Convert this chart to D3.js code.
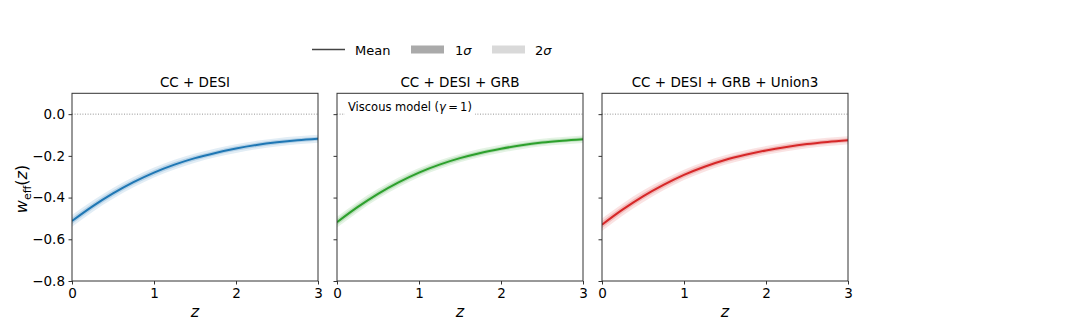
<!DOCTYPE html>
<html>
<head>
<meta charset="utf-8">
<script src="https://cdn.jsdelivr.net/npm/d3@7"></script>
<style>
  body { margin: 0; background: #fff; }
  svg { display: block; font-family: "DejaVu Sans", sans-serif; }
  .axis path, .axis line { stroke: #333; stroke-width: 1; }
  .axis text { font-size: 13.5px; fill: #000; font-family: "DejaVu Sans", sans-serif; }
</style>
</head>
<body>
<div id="chart"></div>
<script>
// data
const panelTitles = ["CC + DESI", "CC + DESI + GRB", "CC + DESI + GRB + Union3"];
const panelColors = ["#1f77b4", "#2ca02c", "#d62728"];
const zGrid = [0, 0.25, 0.5, 0.75, 1, 1.25, 1.5, 1.75, 2, 2.25, 2.5, 2.75, 3];

const meanCC     = [-0.512, -0.442, -0.380, -0.326, -0.280, -0.242, -0.211, -0.186, -0.165, -0.148, -0.135, -0.125, -0.118];
const meanGRB    = [-0.518, -0.446, -0.382, -0.327, -0.280, -0.242, -0.211, -0.186, -0.166, -0.149, -0.136, -0.127, -0.120];
const meanUnion3 = [-0.530, -0.458, -0.394, -0.339, -0.291, -0.252, -0.220, -0.195, -0.174, -0.157, -0.143, -0.133, -0.125];

const sig1CC     = [0.015, 0.014, 0.0135, 0.013, 0.0125, 0.012, 0.0115, 0.011, 0.011, 0.0105, 0.0105, 0.010, 0.010];
const sig2CC     = [0.028, 0.027, 0.026, 0.025, 0.024, 0.023, 0.022, 0.021, 0.021, 0.020, 0.020, 0.019, 0.019];
const sig1GRB    = [0.014, 0.0135, 0.013, 0.0125, 0.012, 0.0115, 0.011, 0.0105, 0.010, 0.010, 0.0095, 0.0095, 0.009];
const sig2GRB    = [0.026, 0.025, 0.024, 0.023, 0.022, 0.021, 0.020, 0.020, 0.019, 0.019, 0.018, 0.018, 0.018];
const sig1Union3 = [0.016, 0.015, 0.0145, 0.014, 0.013, 0.0125, 0.012, 0.0115, 0.011, 0.011, 0.0105, 0.0105, 0.010];
const sig2Union3 = [0.030, 0.029, 0.028, 0.026, 0.025, 0.024, 0.023, 0.022, 0.021, 0.021, 0.020, 0.020, 0.019];

const xTicks = [0, 1, 2, 3];
const yTicks = [-0.8, -0.6, -0.4, -0.2, 0.0];
const legendLabels = ["Mean", "1", "2"];
const annotation = "Viscous model";

const series = [
  { mean: meanCC, s1: sig1CC, s2: sig2CC },
  { mean: meanGRB, s1: sig1GRB, s2: sig2GRB },
  { mean: meanUnion3, s1: sig1Union3, s2: sig2Union3 }
];

const W = 1080, H = 331;
const panelLeft = [72, 337, 602], panelW = 246;
const plotTop = 93.3, plotBottom = 281;

const svg = d3.select("#chart").append("svg").attr("width", W).attr("height", H);

const y = d3.scaleLinear().domain([-0.8, 0.1]).range([plotBottom, plotTop]);

series.forEach(function(s, i) {
  const x = d3.scaleLinear().domain([0, 3]).range([panelLeft[i], panelLeft[i] + panelW]);
  const g = svg.append("g");
  const pts = zGrid.map(function(z, k) { return { z: z, m: s.mean[k], a: s.s1[k], b: s.s2[k] }; });

  const clipId = "clip" + i;
  svg.append("clipPath").attr("id", clipId).append("rect")
    .attr("x", panelLeft[i]).attr("y", plotTop).attr("width", panelW).attr("height", plotBottom - plotTop);
  const plot = g.append("g").attr("clip-path", "url(#" + clipId + ")");

  // zero reference line
  plot.append("line")
    .attr("x1", x(0)).attr("x2", x(3)).attr("y1", y(0)).attr("y2", y(0))
    .attr("stroke", "#777").attr("stroke-width", 0.8).attr("stroke-dasharray", "1,1.6");

  const area2 = d3.area().curve(d3.curveMonotoneX)
    .x(function(d) { return x(d.z); })
    .y0(function(d) { return y(d.m - d.b); }).y1(function(d) { return y(d.m + d.b); });
  const area1 = d3.area().curve(d3.curveMonotoneX)
    .x(function(d) { return x(d.z); })
    .y0(function(d) { return y(d.m - d.a); }).y1(function(d) { return y(d.m + d.a); });
  const line = d3.line().curve(d3.curveMonotoneX)
    .x(function(d) { return x(d.z); }).y(function(d) { return y(d.m); });

  plot.append("path").datum(pts).attr("d", area2).attr("fill", panelColors[i]).attr("fill-opacity", 0.13);
  plot.append("path").datum(pts).attr("d", area1).attr("fill", panelColors[i]).attr("fill-opacity", 0.22);
  plot.append("path").datum(pts).attr("d", line).attr("fill", "none")
    .attr("stroke", panelColors[i]).attr("stroke-width", 2);

  // annotation in middle panel
  if (i === 1) {
    const tx = x(0) + 11, ty = y(0) - 3;
    const t = g.append("text").attr("x", tx).attr("y", ty).attr("font-size", "11.5px").attr("fill", "#000");
    t.append("tspan").text(annotation + " (");
    t.append("tspan").attr("font-style", "italic").text("\u03b3");
    t.append("tspan").text("\u2009=\u20091)");
    const bb = t.node().getBBox();
    g.insert("rect", "text").attr("x", bb.x - 3).attr("y", bb.y - 1)
      .attr("width", bb.width + 6).attr("height", bb.height + 2).attr("fill", "#fff");
  }

  // frame
  g.append("rect").attr("x", panelLeft[i]).attr("y", plotTop).attr("width", panelW).attr("height", plotBottom - plotTop)
    .attr("fill", "none").attr("stroke", "#333").attr("stroke-width", 1);

  const xAxis = d3.axisBottom(x).tickValues(xTicks).tickFormat(d3.format("d")).tickSizeInner(3.5).tickSizeOuter(0).tickPadding(3.5);
  g.append("g").attr("class", "axis").attr("transform", "translate(0," + plotBottom + ")").call(xAxis)
    .call(function(a) { a.select(".domain").remove(); });

  const yAxis = d3.axisLeft(y).tickValues(yTicks).tickSizeInner(3.5).tickSizeOuter(0).tickPadding(3.5)
    .tickFormat(i === 0 ? d3.format(".1f") : "");
  g.append("g").attr("class", "axis").attr("transform", "translate(" + panelLeft[i] + ",0)").call(yAxis)
    .call(function(a) { a.select(".domain").remove(); });

  // title
  g.append("text").attr("x", panelLeft[i] + panelW / 2).attr("y", 87)
    .attr("text-anchor", "middle").attr("font-size", "13.5px").text(panelTitles[i]);

  // x label
  g.append("text").attr("x", panelLeft[i] + panelW / 2).attr("y", 317)
    .attr("text-anchor", "middle").attr("font-size", "16px").attr("font-style", "italic").text("z");
});

// y label
const yl = svg.append("text").attr("transform", "translate(27,189) rotate(-90)")
  .attr("text-anchor", "middle").attr("font-size", "16px");
yl.append("tspan").attr("font-style", "italic").text("w");
yl.append("tspan").attr("font-size", "11px").attr("dy", 4).text("eff");
yl.append("tspan").attr("dy", -4).text("(");
yl.append("tspan").attr("font-style", "italic").text("z");
yl.append("tspan").text(")");

// legend
const leg = svg.append("g");
const ly = 49.5;
leg.append("line").attr("x1", 312).attr("x2", 345).attr("y1", ly).attr("y2", ly)
  .attr("stroke", "#444").attr("stroke-width", 1.3);
leg.append("text").attr("x", 355).attr("y", ly + 5).attr("font-size", "13px").text(legendLabels[0]);
leg.append("rect").attr("x", 411).attr("y", ly - 4).attr("width", 33).attr("height", 8).attr("fill", "#aaaaaa");
leg.append("text").attr("x", 455).attr("y", ly + 5).attr("font-size", "13px")
  .call(function(t) { t.append("tspan").text(legendLabels[1]); t.append("tspan").attr("font-style", "italic").text("\u03c3"); });
leg.append("rect").attr("x", 492).attr("y", ly - 4).attr("width", 33).attr("height", 8).attr("fill", "#d9d9d9");
leg.append("text").attr("x", 535).attr("y", ly + 5).attr("font-size", "13px")
  .call(function(t) { t.append("tspan").text(legendLabels[2]); t.append("tspan").attr("font-style", "italic").text("\u03c3"); });
</script>
</body>
</html>
